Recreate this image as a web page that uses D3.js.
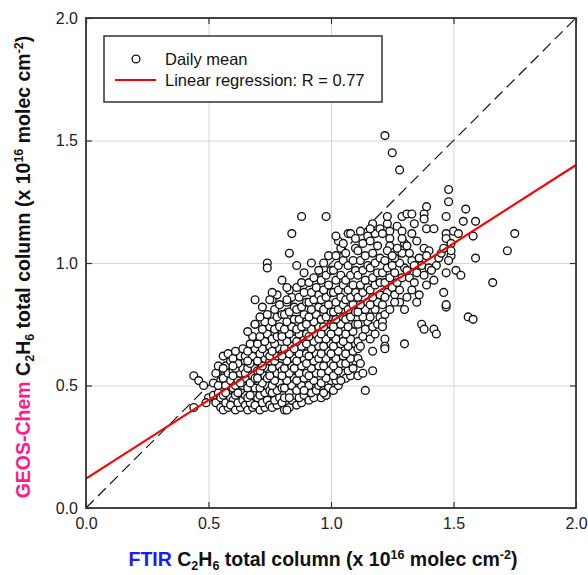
<!DOCTYPE html>
<html>
<head>
<meta charset="utf-8">
<script src="https://cdn.jsdelivr.net/npm/d3@7"></script>
<style>
body { margin: 0; background: #fff; }
svg { display: block; font-family: "Liberation Sans", Arial, sans-serif; }
</style>
</head>
<body>
<svg id="chart" width="588" height="575"></svg>
<script>
const tickValues = [0, 0.5, 1.0, 1.5, 2.0];
const regIntercept = 0.12;
const regSlope = 0.64;
const legendLabels = ["Daily mean", "Linear regression: R = 0.77"];

// [FTIR, GEOS-Chem] daily means, x 10^16 molec cm^-2
const dailyMean = [
    // x 0.42 - 0.55
    [0.44,0.54],[0.46,0.52],[0.48,0.50],[0.44,0.41],[0.50,0.45],[0.52,0.46],[0.52,0.51],[0.49,0.43],
    [0.53,0.43],[0.54,0.47],[0.55,0.52],[0.53,0.55],[0.54,0.58],[0.55,0.45],[0.54,0.50],[0.55,0.41],
    // 0.55 - 0.60
    [0.56,0.40],[0.58,0.41],[0.57,0.43],[0.59,0.45],[0.56,0.46],[0.58,0.48],[0.60,0.49],[0.57,0.50],
    [0.59,0.52],[0.56,0.53],[0.58,0.55],[0.60,0.56],[0.57,0.58],[0.59,0.60],[0.56,0.62],[0.58,0.63],
    [0.60,0.44],[0.57,0.47],[0.59,0.42],[0.56,0.57],
    // 0.60 - 0.65
    [0.61,0.40],[0.63,0.41],[0.62,0.43],[0.64,0.44],[0.61,0.46],[0.65,0.46],[0.63,0.48],[0.61,0.50],
    [0.64,0.50],[0.62,0.52],[0.65,0.53],[0.60,0.54],[0.63,0.55],[0.61,0.57],[0.64,0.57],[0.62,0.59],
    [0.65,0.60],[0.60,0.61],[0.63,0.62],[0.61,0.64],[0.64,0.65],[0.62,0.47],[0.65,0.42],[0.60,0.58],
    [0.63,0.51],
    // 0.65 - 0.70
    [0.66,0.40],[0.68,0.41],[0.67,0.43],[0.69,0.42],[0.66,0.45],[0.70,0.45],[0.68,0.47],[0.66,0.49],
    [0.69,0.49],[0.67,0.51],[0.70,0.52],[0.65,0.55],[0.68,0.54],[0.66,0.57],[0.69,0.57],[0.67,0.59],
    [0.70,0.60],[0.65,0.62],[0.68,0.62],[0.66,0.64],[0.69,0.65],[0.67,0.67],[0.70,0.68],[0.68,0.70],
    [0.66,0.72],[0.69,0.53],[0.67,0.46],[0.70,0.56],[0.69,0.75],[0.66,0.60],
    // 0.70 - 0.75
    [0.71,0.40],[0.73,0.41],[0.72,0.43],[0.74,0.44],[0.71,0.46],[0.75,0.42],[0.73,0.47],[0.71,0.49],
    [0.74,0.50],[0.72,0.51],[0.75,0.48],[0.70,0.53],[0.73,0.54],[0.71,0.56],[0.74,0.57],[0.72,0.58],
    [0.75,0.55],[0.70,0.60],[0.73,0.61],[0.71,0.63],[0.74,0.63],[0.72,0.65],[0.75,0.66],[0.70,0.67],
    [0.73,0.68],[0.71,0.70],[0.74,0.71],[0.72,0.73],[0.75,0.74],[0.73,0.76],[0.71,0.78],[0.74,0.79],
    [0.72,0.82],[0.75,0.60],[0.74,0.53],
    // 0.75 - 0.80
    [0.76,0.41],[0.78,0.42],[0.77,0.44],[0.79,0.45],[0.76,0.47],[0.80,0.43],[0.78,0.48],[0.76,0.50],
    [0.79,0.51],[0.77,0.52],[0.80,0.49],[0.75,0.54],[0.78,0.55],[0.76,0.57],[0.79,0.58],[0.77,0.60],
    [0.80,0.56],[0.75,0.62],[0.78,0.62],[0.76,0.64],[0.79,0.65],[0.77,0.67],[0.80,0.63],[0.76,0.69],
    [0.78,0.70],[0.80,0.71],[0.77,0.73],[0.79,0.74],[0.76,0.76],[0.78,0.78],[0.80,0.79],[0.77,0.81],
    [0.79,0.83],[0.76,0.85],[0.78,0.87],
    // 0.80 - 0.85
    [0.81,0.40],[0.83,0.41],[0.82,0.40],[0.84,0.44],[0.81,0.45],[0.85,0.46],[0.83,0.47],[0.81,0.49],
    [0.84,0.50],[0.82,0.52],[0.85,0.53],[0.80,0.54],[0.83,0.55],[0.81,0.57],[0.84,0.58],[0.82,0.60],
    [0.85,0.61],[0.80,0.62],[0.83,0.63],[0.81,0.65],[0.84,0.66],[0.82,0.68],[0.85,0.69],[0.80,0.70],
    [0.83,0.71],[0.81,0.73],[0.84,0.74],[0.82,0.76],[0.85,0.77],[0.81,0.79],[0.83,0.80],[0.85,0.82],
    [0.82,0.84],[0.84,0.86],[0.83,0.89],
    // 0.85 - 0.90
    [0.86,0.42],[0.88,0.43],[0.87,0.45],[0.89,0.46],[0.86,0.48],[0.90,0.48],[0.88,0.50],[0.86,0.52],
    [0.89,0.53],[0.87,0.55],[0.90,0.55],[0.85,0.57],[0.88,0.58],[0.86,0.60],[0.89,0.61],[0.87,0.63],
    [0.90,0.63],[0.85,0.65],[0.88,0.66],[0.86,0.68],[0.89,0.69],[0.87,0.71],[0.90,0.71],[0.86,0.73],
    [0.88,0.74],[0.90,0.76],[0.87,0.77],[0.89,0.79],[0.86,0.81],[0.88,0.82],[0.90,0.84],[0.87,0.86],
    [0.89,0.88],[0.86,0.90],[0.88,0.92],[0.82,0.90],
    // 0.90 - 0.95
    [0.91,0.44],[0.93,0.45],[0.92,0.47],[0.94,0.48],[0.91,0.50],[0.95,0.50],[0.93,0.52],[0.91,0.54],
    [0.94,0.55],[0.92,0.57],[0.95,0.58],[0.90,0.59],[0.93,0.60],[0.91,0.62],[0.94,0.63],[0.92,0.65],
    [0.95,0.66],[0.90,0.67],[0.93,0.68],[0.91,0.70],[0.94,0.71],[0.92,0.73],[0.95,0.74],[0.90,0.75],
    [0.93,0.76],[0.91,0.78],[0.94,0.79],[0.92,0.81],[0.95,0.82],[0.91,0.84],[0.93,0.85],[0.95,0.87],
    [0.92,0.88],[0.94,0.90],[0.91,0.92],[0.93,0.94],[0.95,0.97],
    // 0.95 - 1.00
    [0.96,0.45],[0.98,0.46],[0.97,0.48],[0.99,0.49],[0.96,0.51],[1.00,0.52],[0.98,0.53],[0.96,0.55],
    [0.99,0.56],[0.97,0.58],[1.00,0.59],[0.95,0.61],[0.98,0.61],[0.96,0.63],[0.99,0.64],[0.97,0.66],
    [1.00,0.67],[0.95,0.69],[0.98,0.69],[0.96,0.71],[0.99,0.72],[0.97,0.74],[1.00,0.75],[0.96,0.77],
    [0.98,0.78],[1.00,0.80],[0.97,0.81],[0.99,0.83],[0.96,0.85],[0.98,0.86],[1.00,0.88],[0.97,0.89],
    [0.99,0.91],[0.96,0.93],[0.98,0.95],[1.00,0.97],[0.97,1.00],[0.99,1.03],
    // 1.00 - 1.05
    [1.01,0.48],[1.03,0.50],[1.02,0.52],[1.01,0.54],[1.05,0.55],[1.03,0.56],[1.01,0.58],[1.04,0.59],
    [1.02,0.61],[1.05,0.62],[1.00,0.63],[1.03,0.64],[1.01,0.66],[1.04,0.67],[1.02,0.69],[1.05,0.70],
    [1.00,0.71],[1.03,0.72],[1.01,0.74],[1.04,0.75],[1.02,0.77],[1.05,0.78],[1.01,0.80],[1.03,0.81],
    [1.05,0.83],[1.02,0.84],[1.04,0.86],[1.01,0.88],[1.03,0.89],[1.05,0.91],[1.02,0.93],[1.04,0.95],
    [1.01,0.97],[1.03,0.99],[1.05,1.01],[1.02,1.03],[1.04,1.06],[1.03,1.09],
    // 1.05 - 1.10
    [1.06,0.53],[1.08,0.54],[1.07,0.56],[1.09,0.57],[1.06,0.59],[1.10,0.60],[1.08,0.61],[1.06,0.63],
    [1.09,0.64],[1.07,0.66],[1.10,0.67],[1.05,0.68],[1.08,0.69],[1.06,0.71],[1.09,0.72],[1.07,0.74],
    [1.10,0.75],[1.06,0.77],[1.08,0.78],[1.10,0.80],[1.07,0.81],[1.09,0.83],[1.06,0.85],[1.08,0.86],
    [1.10,0.88],[1.07,0.89],[1.09,0.91],[1.06,0.93],[1.08,0.95],[1.10,0.97],[1.07,0.99],[1.09,1.01],
    [1.06,1.04],[1.10,1.06],[1.07,1.12],
    // 1.10 - 1.15
    [1.11,0.65],[1.11,0.68],[1.13,0.70],[1.12,0.66],[1.14,0.73],[1.11,0.75],[1.15,0.76],[1.13,0.78],
    [1.11,0.80],[1.14,0.81],[1.12,0.83],[1.15,0.84],[1.11,0.86],[1.13,0.88],[1.15,0.90],[1.12,0.91],
    [1.14,0.93],[1.11,0.95],[1.13,0.97],[1.15,0.99],[1.12,1.01],[1.14,1.03],[1.11,1.05],[1.13,1.08],
    [1.15,1.11],[1.12,1.13],
    // 1.15 - 1.20
    [1.16,0.69],[1.18,0.71],[1.17,0.74],[1.19,0.75],[1.16,0.78],[1.20,0.78],[1.18,0.81],[1.16,0.83],
    [1.19,0.84],[1.17,0.86],[1.20,0.87],[1.16,0.89],[1.18,0.91],[1.20,0.92],[1.17,0.94],[1.19,0.96],
    [1.16,0.98],[1.18,1.00],[1.20,1.02],[1.17,1.04],[1.19,1.07],[1.16,1.09],[1.18,1.12],[1.20,1.14],
    [1.17,1.16],
    // 1.20 - 1.45
    [1.22,0.79],[1.24,0.81],[1.21,0.83],[1.23,0.88],[1.25,0.90],[1.22,0.92],[1.24,0.94],[1.21,0.96],
    [1.23,0.98],[1.25,0.99],[1.22,1.01],[1.24,1.13],[1.21,1.12],[1.23,1.16],
    [1.26,0.87],[1.28,0.89],[1.27,0.92],[1.29,0.94],[1.26,0.96],[1.30,0.98],[1.28,1.00],[1.26,1.02],
    [1.29,1.04],[1.27,1.06],[1.30,1.08],[1.27,1.15],[1.28,0.84],
    [1.31,0.86],[1.33,0.89],[1.32,0.94],[1.31,0.97],[1.33,1.01],[1.32,1.04],[1.31,1.07],[1.33,1.12],
    [1.37,0.99],[1.36,1.02],[1.38,1.06],[1.43,0.99],[1.44,1.02],[1.42,0.93],
    // scattered / outlying days
    [1.22,1.52],[1.25,1.45],[1.28,1.38],
    [1.48,1.30],[1.48,1.25],[1.55,1.22],[1.39,1.23],[1.47,1.19],[1.54,1.17],[1.59,1.17],[1.75,1.12],
    [1.58,1.11],[1.72,1.05],[1.59,1.02],[1.66,0.92],[1.46,0.88],[1.47,0.82],[1.47,0.83],[1.56,0.78],
    [1.58,0.77],[1.37,0.75],[1.38,0.73],[1.42,0.73],[1.43,0.71],[1.30,0.67],
    [0.98,1.19],[0.88,1.19],[0.84,1.12],[0.83,1.04],[1.02,1.11],[0.74,1.00],[0.74,0.98],[0.86,0.99],
    [0.89,0.96],[0.92,1.00],[0.80,0.93],[0.76,0.88],[0.75,0.85],[0.69,0.85],[0.82,0.85],[0.69,0.75],
    [1.08,1.12],[1.10,1.10],[1.16,1.14],[1.05,1.08],
    [1.23,1.19],[1.29,1.19],[1.31,1.20],[1.33,1.20],[1.34,1.16],[1.38,1.20],[1.38,1.18],[1.39,1.14],
    [1.42,1.14],[1.29,1.13],[1.29,1.10],[1.35,1.09],[1.40,1.05],[1.39,1.03],
    [1.47,1.12],[1.50,1.13],[1.52,1.12],[1.45,1.04],[1.49,1.03],[1.48,1.01],[1.47,0.96],[1.51,0.97],
    [1.53,0.95],[1.47,1.10],[1.49,1.08],[1.46,1.06],[1.49,1.05],
    [1.24,1.10],[1.24,1.07],[1.23,1.05],[1.25,1.03],[1.34,0.99],[1.35,0.96],[1.40,0.98],[1.41,0.97],
    [1.38,0.95],[1.34,0.92],[1.39,0.91],[1.36,0.87],[1.35,0.84],[1.30,0.81],[1.26,0.84],[1.22,0.86],
    [1.21,0.76],[1.21,0.74],[1.22,0.69],[1.22,0.66],[1.22,0.65],
    [1.11,0.54],[1.13,0.55],[1.17,0.56],[1.11,0.61],[1.12,0.59],[1.14,0.48],[1.17,0.64],
    [0.98,0.46],[0.97,0.47],[1.04,0.52],[0.83,0.45],[0.89,0.48]
];

const svg = d3.select('#chart');
const margin = {top: 18, right: 12, bottom: 67, left: 86};
const width = 588 - margin.left - margin.right;
const height = 575 - margin.top - margin.bottom;

const x = d3.scaleLinear().domain([0, 2]).range([0, width]);
const y = d3.scaleLinear().domain([0, 2]).range([height, 0]);

const g = svg.append('g').attr('transform', `translate(${margin.left},${margin.top})`);

// grid
g.append('g')
    .attr('transform', `translate(0,${height})`)
    .call(d3.axisBottom(x).tickValues(tickValues).tickSize(-height).tickFormat(''))
    .call(a => a.select('.domain').remove())
    .selectAll('line').attr('stroke', '#d6d6d6');
g.append('g')
    .call(d3.axisLeft(y).tickValues(tickValues).tickSize(-width).tickFormat(''))
    .call(a => a.select('.domain').remove())
    .selectAll('line').attr('stroke', '#d6d6d6');

// 1:1 line
g.append('line')
    .attr('x1', x(0)).attr('y1', y(0))
    .attr('x2', x(2)).attr('y2', y(2))
    .attr('stroke', '#111')
    .attr('stroke-width', 1.2)
    .attr('stroke-dasharray', '11,6');

g.append('g')
    .selectAll('circle')
    .data(dailyMean)
    .enter().append('circle')
    .attr('cx', d => x(d[0]))
    .attr('cy', d => y(d[1]))
    .attr('r', 3.9)
    .attr('fill', '#fff')
    .attr('stroke', '#111')
    .attr('stroke-width', 1.35);

// regression line
g.append('line')
    .attr('x1', x(0)).attr('y1', y(regIntercept))
    .attr('x2', x(2)).attr('y2', y(regIntercept + regSlope * 2))
    .attr('stroke', '#ff0000')
    .attr('stroke-width', 2.2);

// axes, ticks inward on all four sides
const styleAxis = a => {
    a.select('.domain').remove();
    a.selectAll('line').attr('stroke', '#333').attr('stroke-width', 1.2);
    a.selectAll('text').attr('font-size', 16).attr('fill', '#222')
        .attr('font-family', '"Liberation Sans", Arial, sans-serif');
};
g.append('g')
    .attr('transform', `translate(0,${height})`)
    .call(d3.axisBottom(x).tickValues(tickValues).tickSize(-6).tickPadding(10).tickFormat(d3.format('.1f')))
    .call(styleAxis);
g.append('g')
    .call(d3.axisLeft(y).tickValues(tickValues).tickSize(-6).tickPadding(8).tickFormat(d3.format('.1f')))
    .call(styleAxis);
g.append('g')
    .call(d3.axisTop(x).tickValues(tickValues).tickSize(-6).tickFormat(''))
    .call(styleAxis);
g.append('g')
    .attr('transform', `translate(${width},0)`)
    .call(d3.axisRight(y).tickValues(tickValues).tickSize(-6).tickFormat(''))
    .call(styleAxis);

g.append('rect')
    .attr('width', width).attr('height', height)
    .attr('fill', 'none')
    .attr('stroke', '#333')
    .attr('stroke-width', 1.8);

// legend
const legend = svg.append('g').attr('transform', 'translate(104,36)');
legend.append('rect')
    .attr('width', 278).attr('height', 66)
    .attr('fill', '#fff')
    .attr('stroke', '#333')
    .attr('stroke-width', 1.5);
legend.append('circle')
    .attr('cx', 32).attr('cy', 23).attr('r', 3.9)
    .attr('fill', '#fff').attr('stroke', '#111').attr('stroke-width', 1.35);
legend.append('line')
    .attr('x1', 11).attr('x2', 52).attr('y1', 44).attr('y2', 44)
    .attr('stroke', '#ff0000').attr('stroke-width', 2.2);
legend.selectAll('text.lab')
    .data(legendLabels)
    .enter().append('text')
    .attr('class', 'lab')
    .attr('x', 61)
    .attr('y', (d, i) => 29 + i * 21)
    .attr('font-size', 16.5)
    .attr('fill', '#111')
    .text(d => d);

// axis titles with sub/superscripts
const titleParts = first => [
    {t: first.text, fill: first.fill},
    {t: ' C'}, {t: '2', sub: true}, {t: 'H'}, {t: '6', sub: true},
    {t: ' total column (x 10'}, {t: '16', sup: true},
    {t: ' molec cm'}, {t: '-2', sup: true}, {t: ')'}
];

const writeTitle = (sel, parts) => {
    let shift = 0;
    parts.forEach(p => {
        let target = p.sub ? 4 : p.sup ? -7 : 0;
        const ts = sel.append('tspan').attr('dy', target - shift).text(p.t);
        if (p.sub || p.sup) ts.attr('font-size', 12.5);
        if (p.fill) ts.attr('fill', p.fill);
        shift = target;
    });
};

const xTitle = svg.append('text')
    .attr('x', 323).attr('y', 566)
    .attr('text-anchor', 'middle')
    .attr('font-size', 19.5)
    .attr('font-weight', 'bold')
    .attr('fill', '#111');
writeTitle(xTitle, titleParts({text: 'FTIR', fill: '#1a1aff'}));

const yTitle = svg.append('text')
    .attr('transform', 'translate(30,267) rotate(-90)')
    .attr('text-anchor', 'middle')
    .attr('font-size', 19.5)
    .attr('font-weight', 'bold')
    .attr('fill', '#111');
writeTitle(yTitle, titleParts({text: 'GEOS-Chem', fill: '#ff1a8c'}));
</script>
</body>
</html>
